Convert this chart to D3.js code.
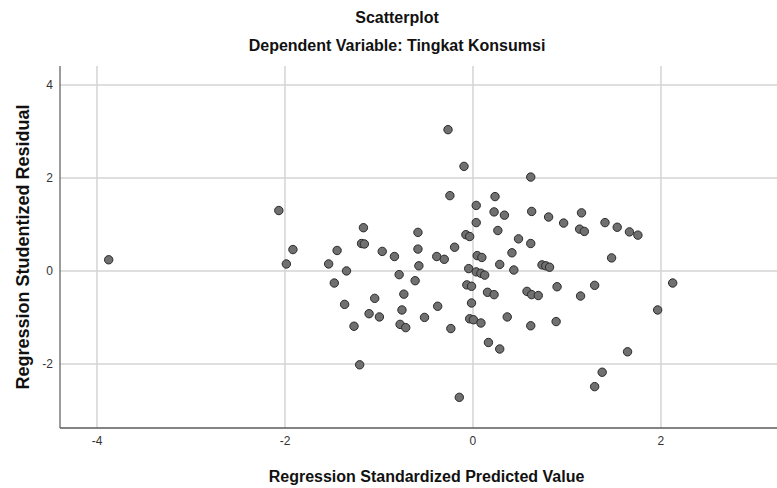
<!DOCTYPE html>
<html>
<head>
<meta charset="utf-8">
<script src="https://d3js.org/d3.v7.min.js"></script>
<style>
  body { margin: 0; background: #fff; }
  svg { display: block; font-family: "Liberation Sans", Arial, sans-serif; }
</style>
</head>
<body>
<div id="chart"></div>
<script>

// regression standardized predicted value (x) and studentized residual (y)
var predicted = [
  -3.87, -2.06, -1.98, -1.91, -1.53, -1.47, -1.44, -1.36, -1.34, -1.26,
  -1.20, -1.18, -1.15, -1.16, -1.10, -1.04, -0.99, -0.96, -0.83, -0.78,
  -0.77, -0.75, -0.73, -0.71, -0.61, -0.58, -0.58, -0.57, -0.51, -0.38,
  -0.37, -0.30, -0.26, -0.24, -0.23, -0.19, -0.14, -0.09, -0.07, -0.03,
  -0.06, -0.04, -0.01, -0.01, -0.03, 0.01, 0.04, 0.04, 0.05, 0.10,
  0.04, 0.09, 0.13, 0.09, 0.16, 0.23, 0.17, 0.24, 0.23, 0.27,
  0.29, 0.29, 0.34, 0.37, 0.42, 0.44, 0.49, 0.58, 0.62, 0.63,
  0.62, 0.63, 0.70, 0.62, 0.74, 0.78, 0.82, 0.81, 0.90, 0.89,
  0.97, 1.14, 1.19, 1.16, 1.15, 1.30, 1.30, 1.38, 1.41, 1.48,
  1.54, 1.65, 1.67, 1.76, 1.97, 2.13
];
var residual = [
  0.23, 1.29, 0.14, 0.45, 0.14, -0.27, 0.43, -0.73, -0.01, -1.20,
  -2.03, 0.58, 0.57, 0.92, -0.93, -0.60, -1.00, 0.41, 0.30, -0.09,
  -1.16, -0.85, -0.51, -1.23, -0.22, 0.82, 0.46, 0.10, -1.01, 0.30,
  -0.77, 0.24, 3.03, 1.61, -1.25, 0.50, -2.73, 2.24, 0.77, 0.73,
  -0.31, 0.04, -0.34, -0.70, -1.04, -1.06, 1.40, 1.03, 0.32, 0.28,
  -0.03, -0.06, -0.10, -1.13, -0.47, -0.52, -1.55, 1.59, 1.26, 0.86,
  0.13, -1.69, 1.19, -1.00, 0.38, 0.01, 0.68, -0.45, 2.01, 1.27,
  0.58, -0.52, -0.54, -1.19, 0.12, 0.10, 0.07, 1.15, -0.35, -1.10,
  1.02, 0.89, 0.84, 1.24, -0.55, -0.32, -2.50, -2.19, 1.03, 0.27,
  0.93, -1.75, 0.83, 0.76, -0.85, -0.27
];
var xTicks = [-4, -2, 0, 2];
var yTicks = [-2, 0, 2, 4];

var data = predicted.map(function(d, i) { return {x: d, y: residual[i]}; });

var fullWidth = 777, fullHeight = 488;
// the plot runs past the right edge of the picture
var margin = {top: 66, right: -16, bottom: 60, left: 60},
    width = fullWidth - margin.left - margin.right,
    height = fullHeight - margin.top - margin.bottom;

var svg = d3.select("#chart")
  .append("svg")
    .attr("width", fullWidth)
    .attr("height", fullHeight);

var g = svg.append("g")
    .attr("transform", "translate(" + margin.left + "," + margin.top + ")");

var x = d3.scaleLinear()
  .domain([-4.388, 3.41])
  .range([0, width]);

var y = d3.scaleLinear()
  .domain([-3.39, 4.4])
  .range([height, 0]);

// plain hyphen for negatives, like the original
var fmt = function(d) { return String(d); };

// grid lines + tick labels
var xAxis = g.append("g")
  .attr("transform", "translate(0," + height + ")")
  .call(d3.axisBottom(x).tickValues(xTicks).tickSize(-height).tickSizeOuter(0).tickPadding(8)
    .tickFormat(fmt));

var yAxis = g.append("g")
  .call(d3.axisLeft(y).tickValues(yTicks).tickSize(-width).tickSizeOuter(0).tickPadding(7)
    .tickFormat(fmt));

[xAxis, yAxis].forEach(function(a) {
  a.select(".domain").remove();
  a.selectAll(".tick line")
    .attr("stroke", "#d4d4d4")
    .attr("stroke-width", 1.5);
  a.selectAll(".tick text")
    .attr("fill", "#333")
    .style("font-size", "12px")
    .style("font-family", "'Liberation Sans', Arial, sans-serif");
});

// axis lines
g.append("line")
  .attr("x1", 0).attr("x2", 0)
  .attr("y1", 0).attr("y2", height)
  .attr("stroke", "#5a5a5a")
  .attr("stroke-width", 1.2);
g.append("line")
  .attr("x1", 0).attr("x2", width)
  .attr("y1", height).attr("y2", height)
  .attr("stroke", "#5a5a5a")
  .attr("stroke-width", 1.5);

g.selectAll("circle")
  .data(data)
  .enter()
  .append("circle")
    .attr("cx", function(d) { return x(d.x); })
    .attr("cy", function(d) { return y(d.y); })
    .attr("r", 4.2)
    .attr("fill", "#707070")
    .attr("stroke", "#2a2a2a")
    .attr("stroke-width", 1);

// titles
svg.append("text")
  .attr("x", 397)
  .attr("y", 23)
  .attr("text-anchor", "middle")
  .style("font-size", "16px")
  .style("font-weight", "bold")
  .attr("fill", "#111")
  .text("Scatterplot");

svg.append("text")
  .attr("x", 397)
  .attr("y", 51)
  .attr("text-anchor", "middle")
  .style("font-size", "16px")
  .style("font-weight", "bold")
  .attr("fill", "#111")
  .text("Dependent Variable: Tingkat Konsumsi");

svg.append("text")
  .attr("x", margin.left + width / 2)
  .attr("y", 482)
  .attr("text-anchor", "middle")
  .style("font-size", "16px")
  .style("font-weight", "bold")
  .attr("fill", "#111")
  .text("Regression Standardized Predicted Value");

svg.append("text")
  .attr("transform", "rotate(-90)")
  .attr("x", -(margin.top + height / 2))
  .attr("y", 29)
  .attr("text-anchor", "middle")
  .style("font-size", "18px")
  .style("font-weight", "bold")
  .attr("fill", "#111")
  .text("Regression Studentized Residual");

</script>
</body>
</html>
